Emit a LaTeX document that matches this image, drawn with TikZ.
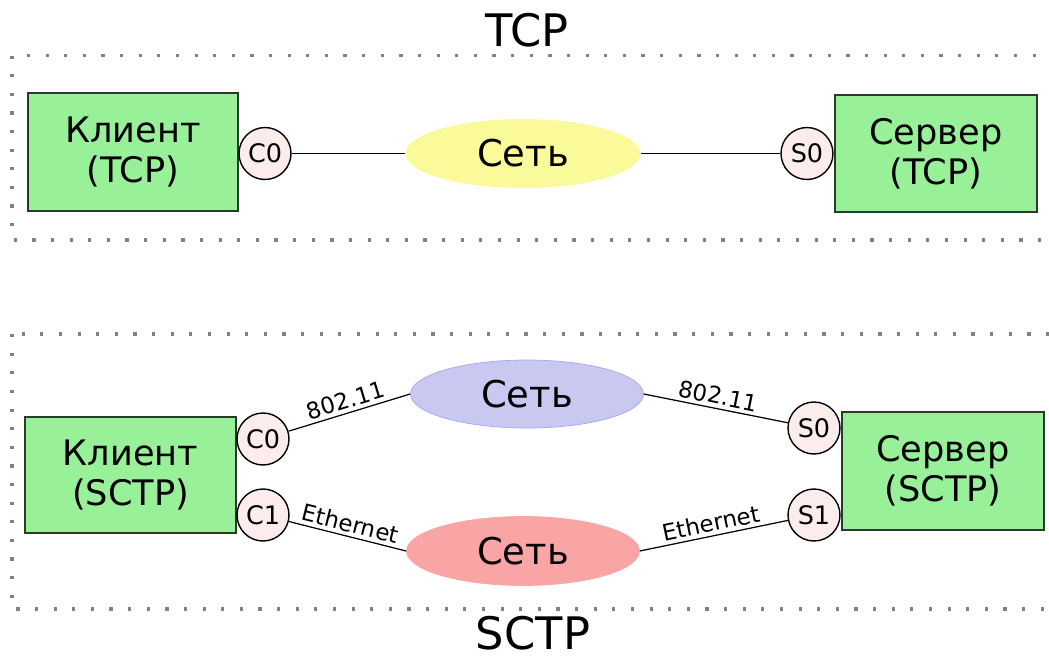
\documentclass[tikz,border=0pt]{standalone}
\usepackage{fontspec}
\setmainfont{DejaVu Sans}
\usetikzlibrary{shapes.geometric}

\definecolor{hostgreen}{RGB}{152,240,152}
\definecolor{hostedge}{RGB}{40,60,40}
\definecolor{portpink}{RGB}{252,236,236}
\definecolor{netyellow}{RGB}{250,250,155}
\definecolor{netblue}{RGB}{200,200,240}
\definecolor{netblueedge}{RGB}{165,165,240}
\definecolor{netred}{RGB}{250,165,165}
\definecolor{zonegray}{RGB}{130,130,130}

\tikzset{%
          host/.style={
            rectangle,
            draw=hostedge,
            line width=1.1pt,
            fill=hostgreen,
            align=center,
            inner sep=0pt,
            font=\fontsize{20}{23}\selectfont
          },
          port/.style={
            circle,
            draw,
            line width=0.8pt,
            fill=portpink,
            inner sep=0pt,
            minimum size=1.04cm,
            font=\fontsize{14.5}{16}\selectfont
          },
          net/.style={
            ellipse,
            minimum width=4.7cm,
            minimum height=1.38cm,
            font=\fontsize{21}{24}\selectfont
          },
          link label/.style={
            sloped, above, midway,
            inner sep=2pt,
            font=\fontsize{13}{15}\selectfont
          },
          zone/.style={
            draw=zonegray,
            line width=1.8pt,
            dash pattern=on 1.8pt off 8.8pt
          },
          title/.style={
            inner sep=0pt,
            font=\fontsize{25.5}{30}\selectfont
          },
        }

\begin{document}
\begin{tikzpicture}[x=0.02cm, y=-0.02cm]
        \clip (0,0) rectangle (1049,657);

        % TCP
        \draw [zone] (12,55.5) rectangle (1075,240);
        \node [title] (title-tcp) at (527,30) {TCP};

        \node [host, minimum width=4.2cm, minimum height=2.36cm] (client-tcp) at (133,152) {Клиент\\(TCP)};
        \node [port] (c0-tcp) at (265,153.5) {C0};
        \node [net, fill=netyellow] (net-tcp) at (523,153.5) {Сеть};
        \node [port] (s0-tcp) at (807,153.5) {S0};
        \node [host, minimum width=4.04cm, minimum height=2.34cm] (server-tcp) at (936,153.5) {Сервер\\(TCP)};

        \path [draw, line width=0.7pt] (c0-tcp) -- (net-tcp.west);
        \path [draw, line width=0.7pt] (net-tcp.east) -- (s0-tcp);

        % SCTP
        \draw [zone] (12,334) rectangle (1075,609);
        \node [title] (title-sctp) at (533,633) {SCTP};

        \node [host, minimum width=4.22cm, minimum height=2.32cm] (client-sctp) at (130.5,475) {Клиент\\(SCTP)};
        \node [port] (c0-sctp) at (263,439) {C0};
        \node [port] (c1-sctp) at (263,515) {C1};
        \node [net, fill=netblue, draw=netblueedge, minimum width=4.66cm, minimum height=1.36cm] (net-wifi) at (527,394) {Сеть};
        \node [net, fill=netred, draw=netred, minimum width=4.66cm] (net-eth) at (523,551) {Сеть};
        \node [port] (s0-sctp) at (814,428) {S0};
        \node [port] (s1-sctp) at (814,515) {S1};
        \node [host, minimum width=4.04cm, minimum height=2.36cm] (server-sctp) at (943,471) {Сервер\\(SCTP)};

        \path [draw, line width=0.7pt] (c0-sctp) -- node [link label] {802.11} (net-wifi.west);
        \path [draw, line width=0.7pt] (c1-sctp) -- node [link label] {Ethernet} (net-eth.west);
        \path [draw, line width=0.7pt] (net-wifi.east) -- node [link label] {802.11} (s0-sctp);
        \path [draw, line width=0.7pt] (net-eth.east) -- node [link label] {Ethernet} (s1-sctp);

        \end{tikzpicture}
\end{document}
